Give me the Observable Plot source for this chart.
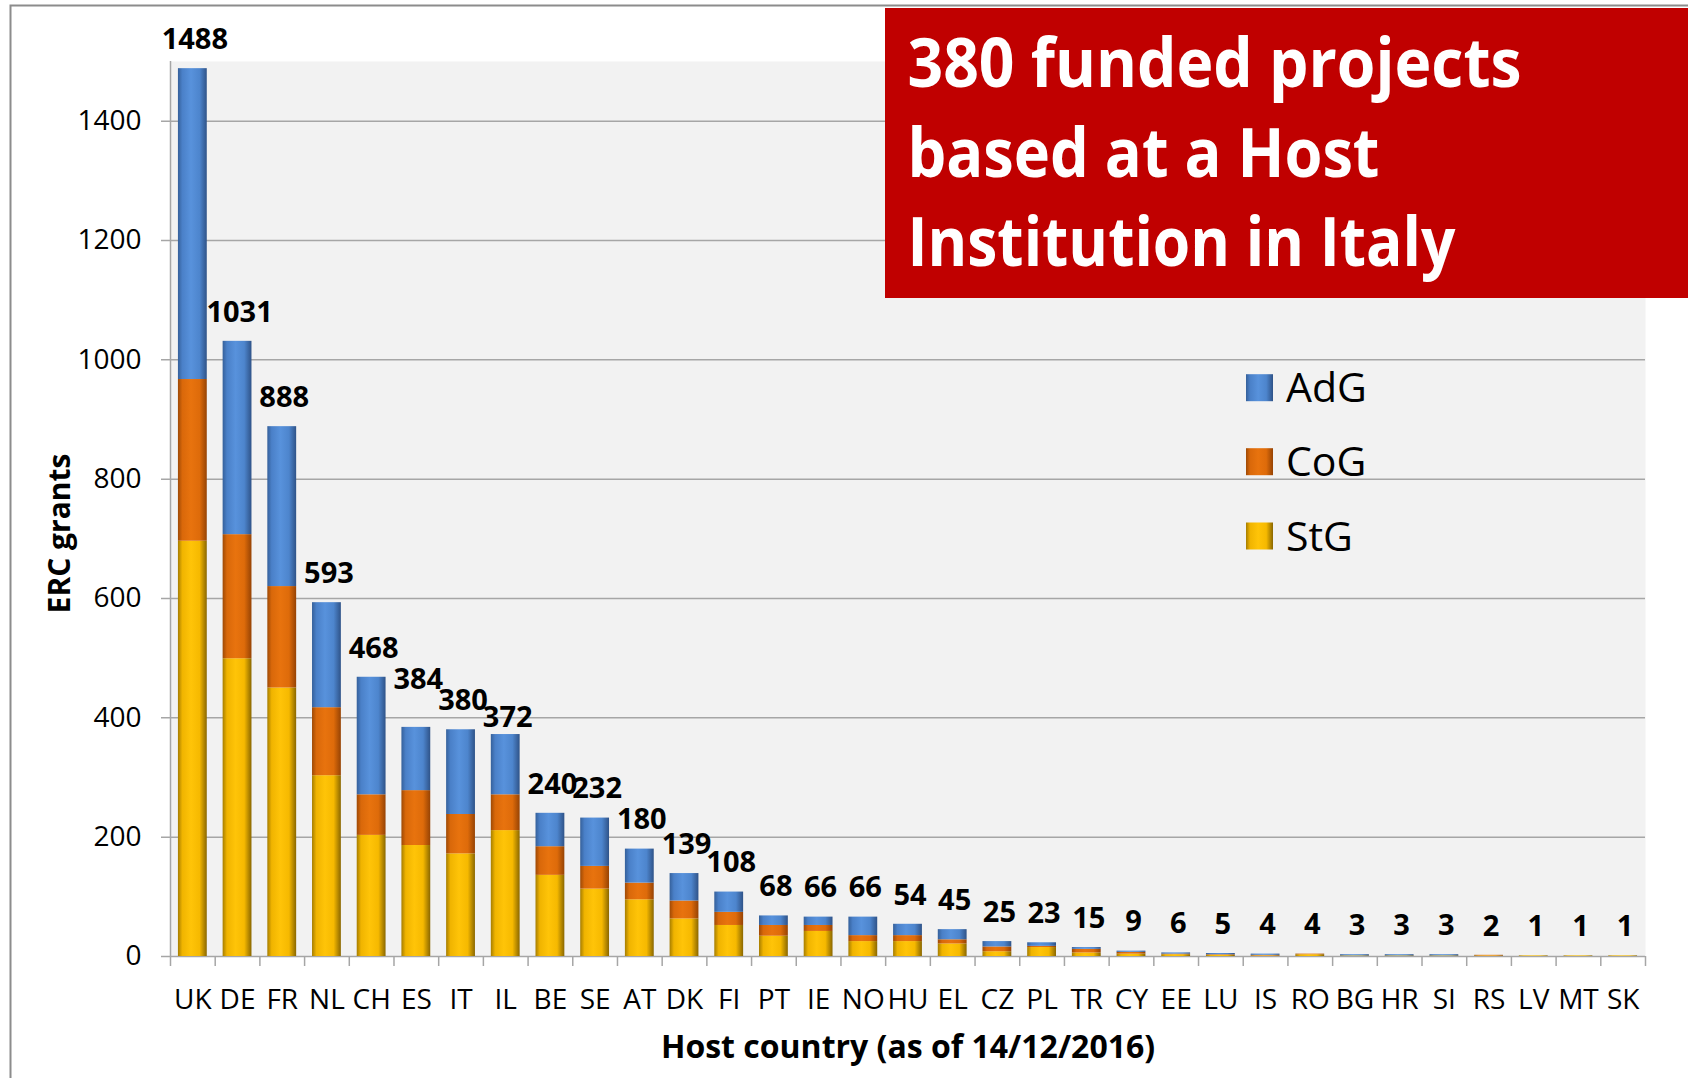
<!DOCTYPE html>
<html>
<head>
<meta charset="utf-8">
<script src="https://cdn.jsdelivr.net/npm/d3@7"></script>
<script src="https://cdn.jsdelivr.net/npm/@observablehq/plot@0.6"></script>
<style>
  html, body { margin: 0; padding: 0; background: #fff; }
  #wrap { position: relative; width: 1688px; height: 1078px; overflow: hidden; font-family: 'Open Sans', sans-serif; }
  #wrap > svg { position: absolute; left: 0; top: 0; }
</style>
</head>
<body>
<div id="wrap"></div>
<script>
// ---- data ----
const countries = ["UK","DE","FR","NL","CH","ES","IT","IL","BE","SE","AT","DK","FI","PT","IE","NO","HU","EL","CZ","PL","TR","CY","EE","LU","IS","RO","BG","HR","SI","RS","LV","MT","SK"];
const totals = [1488,1031,888,593,468,384,380,372,240,232,180,139,108,68,66,66,54,45,25,23,15,9,6,5,4,4,3,3,3,2,1,1,1];
const stg = [696,499,450,303,203,186,172,211,136,113,95,63,52,34,42,25,25,21,8,15,6,4,3,2,1,3,1,1,1,1,1,1,1];
const cog = [271,208,170,114,68,92,66,60,48,38,28,30,22,18,10,10,10,7,8,2,6,3,1,1,1,1,0,0,0,1,0,0,0];
const adg = [521,324,268,176,197,106,142,101,56,81,57,46,34,16,14,31,19,17,9,6,3,2,2,2,2,0,2,2,2,0,0,0,0];
const stackOrder = ["StG","CoG","AdG"];
const legendOrder = ["AdG","CoG","StG"];
const yTicks = [0,200,400,600,800,1000,1200,1400];
const titleLines = ["380 funded projects","based at a Host","Institution in Italy"];
const xLabel = "Host country (as of 14/12/2016)";
const yLabel = "ERC grants";

// ---- layout & style ----
const W = 1688, H = 1078, mL = 170, mR = 43, mT = 61, mB = 122;
const step = (W - mL - mR) / countries.length;
const grid = "#a6a6a6";
const labelDy = -29;
const labelNudge = {ES: -48, IL: -17};   // value labels moved in the original to avoid overlap
const gradStops = {
  AdG: [["0%","#35609a"],["15%","#4a80c8"],["45%","#5892dc"],["75%","#4d85cd"],["100%","#2f5388"]],
  CoG: [["0%","#9e4905"],["15%","#d9680a"],["45%","#e8730e"],["75%","#de6b0a"],["100%","#964304"]],
  StG: [["0%","#a67d00"],["15%","#f0b400"],["45%","#ffc408"],["75%","#f6b900"],["100%","#8a6700"]]
};

const series = {StG: stg, CoG: cog, AdG: adg};
const rows = [];
countries.forEach((c, i) => {
  for (const s of stackOrder) rows.push({country: c, series: s, value: series[s][i]});
});
const totalOf = c => totals[countries.indexOf(c)];

const ns = "http://www.w3.org/2000/svg";
function defsMark() {
  const defs = document.createElementNS(ns, "defs");
  for (const k of Object.keys(gradStops)) {
    const g = document.createElementNS(ns, "linearGradient");
    g.setAttribute("id", "grad" + k);
    g.setAttribute("x1", "0"); g.setAttribute("x2", "1");
    g.setAttribute("y1", "0"); g.setAttribute("y2", "0");
    for (const [o, c] of gradStops[k]) {
      const st = document.createElementNS(ns, "stop");
      st.setAttribute("offset", o);
      st.setAttribute("stop-color", c);
      g.appendChild(st);
    }
    defs.appendChild(g);
  }
  return defs;
}

const labelOpts = {x: d => d, y: totalOf, text: d => String(totalOf(d)), dx: 2, fontWeight: "bold", fontSize: 29};

const chart = Plot.plot({
  width: W, height: H,
  marginLeft: mL, marginRight: mR, marginTop: mT, marginBottom: mB,
  style: {fontFamily: "'Open Sans', sans-serif", fontSize: "28px", color: "#000", background: "transparent"},
  x: {domain: countries, paddingInner: 0.355, paddingOuter: 0.1775, round: false, tickSize: 0, tickPadding: 33, label: null},
  y: {domain: [0, 1500], ticks: yTicks, tickFormat: d => String(d), tickSize: 0, tickPadding: 29, label: null},
  color: {type: "identity"},
  marks: [
    defsMark,
    Plot.frame({fill: "#f2f2f2", stroke: "none"}),
    Plot.ruleY(yTicks, {y: d => d, stroke: grid, strokeWidth: 1.5, insetLeft: -9}),
    Plot.ruleX([countries[0]], {x: d => d, y1: 0, y2: 1500, dx: -step / 2, stroke: grid, strokeWidth: 1.5}),
    Plot.ruleX(countries, {x: d => d, y1: 0, y2: 0, dx: -step / 2, insetBottom: -10, stroke: grid, strokeWidth: 1.5}),
    Plot.ruleX([countries[countries.length - 1]], {x: d => d, y1: 0, y2: 0, dx: step / 2, insetBottom: -10, stroke: grid, strokeWidth: 1.5}),
    Plot.barY(rows, {x: "country", y: "value", fill: d => `url(#grad${d.series})`}),
    Plot.text(countries.filter(c => !(c in labelNudge)), {...labelOpts, dy: labelDy}),
    ...Object.entries(labelNudge).map(([c, dy]) => Plot.text([c], {...labelOpts, dy})),
    Plot.text([yLabel], {text: d => d, frameAnchor: "left", textAnchor: "middle", lineAnchor: "middle", rotate: -90, dx: -110, dy: 24.5, fontWeight: "bold", fontSize: 30}),
    Plot.text([xLabel], {text: d => d, frameAnchor: "bottom", lineAnchor: "middle", dy: 91.5, fontWeight: "bold", fontSize: 32})
  ]
});

const wrap = document.getElementById("wrap");
wrap.appendChild(chart);

// ---- overlay: outer frame, red title box, legend ----
const ov = document.createElementNS(ns, "svg");
ov.setAttribute("width", W); ov.setAttribute("height", H);
ov.style.pointerEvents = "none";
ov.style.fontFamily = "'Open Sans', sans-serif";
function el(tag, attrs, text) {
  const e = document.createElementNS(ns, tag);
  for (const k in attrs) e.setAttribute(k, attrs[k]);
  if (text != null) e.textContent = text;
  ov.appendChild(e);
  return e;
}
el("path", {d: `M10.5,${H} V5.5 H${W}`, fill: "none", stroke: "#8c8c8c", "stroke-width": 2});
el("rect", {x: 885, y: 8, width: W - 885, height: 290, fill: "#c00000"});
const titleBase = [87.3, 176.7, 265.7];
const titleLen = [614, 472, 548];
titleLines.forEach((t, i) => {
  el("text", {x: 907.5, y: titleBase[i], fill: "#fff", "font-size": 68, "font-weight": "bold",
    textLength: titleLen[i], lengthAdjust: "spacingAndGlyphs"}, t);
});
const legendY = [387.7, 461.7, 536];
legendOrder.forEach((s, i) => {
  el("rect", {x: 1246, y: legendY[i] - 13.5, width: 27, height: 27, fill: `url(#grad${s})`});
  el("text", {x: 1286, y: legendY[i] + 0.357 * 41, "font-size": 41, fill: "#000"}, s);
});
wrap.appendChild(ov);
</script>
</body>
</html>
